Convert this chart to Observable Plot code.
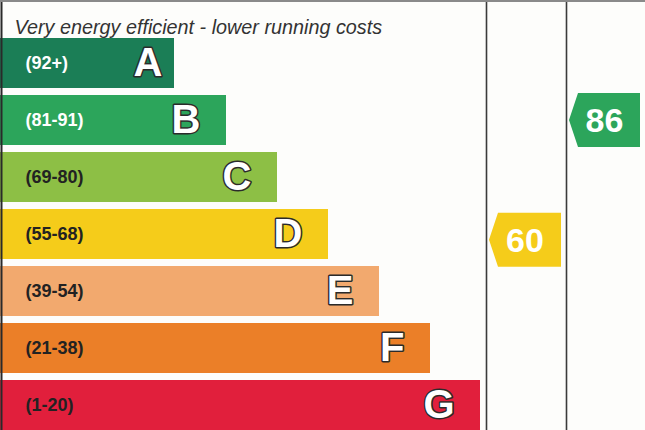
<!DOCTYPE html>
<html>
<head>
<meta charset="utf-8">
<script src="https://cdn.jsdelivr.net/npm/d3@7"></script>
<script src="https://cdn.jsdelivr.net/npm/@observablehq/plot@0.6"></script>
<style>
  html, body { margin: 0; padding: 0; background: #fdfdfb; }
  #chart svg { display: block; background: #fdfdfb; }
</style>
</head>
<body>
<div id="chart"></div>
<script>
const titleText = "Very energy efficient - lower running costs";
const ratings = ["A", "B", "C", "D", "E", "F", "G"];
const ranges = ["(92+)", "(81-91)", "(69-80)", "(55-68)", "(39-54)", "(21-38)", "(1-20)"];
const bandMin = [92, 81, 69, 55, 39, 21, 1];
const bandMax = [100, 91, 80, 68, 54, 38, 20];
const barEnd = [174, 226, 277, 328, 379, 430, 480];
const colors = ["#1b7e56", "#2ca55b", "#8dbf45", "#f5cc1a", "#f2a96e", "#eb7f28", "#e11f3c"];
const labelColors = ["#ffffff", "#ffffff", "#222222", "#222222", "#222222", "#222222", "#222222"];
const columnEdges = [486, 566];
const arrowNames = ["Current", "Potential"];
const arrowScores = [60, 86];
const arrowColStart = [486, 566];
const arrowColEnd = [566, 645];

const rows = ratings.map((r, i) => ({
  rating: r, range: ranges[i], end: barEnd[i], color: colors[i], labelColor: labelColors[i]
}));
const arrows = arrowNames.map((n, i) => {
  const score = arrowScores[i];
  const k = bandMin.findIndex((lo, j) => score >= lo && score <= bandMax[j]);
  return {name: n, score, rating: ratings[k], lo: bandMin[k], hi: bandMax[k],
          x1: arrowColStart[i], x2: arrowColEnd[i], color: colors[k]};
});

const font = "'Liberation Sans', Arial, sans-serif";

const arrowMark = (index, scales) => {
  const g = d3.create("svg:g");
  const x = scales.x, y = scales.y, bw = y.bandwidth();
  // top border
  g.append("line").attr("x1", x(0)).attr("x2", x(645)).attr("y1", 1).attr("y2", 1)
    .attr("stroke", "#8a8a8a").attr("stroke-width", 2);
  for (const a of arrows) {
    const frac = (a.hi - a.score) / (a.hi - a.lo);
    const cy = y(a.rating) + bw / 2 + (frac - 0.5) * bw;
    const h = 54;
    const tip = x(a.x1) + 3, body = tip + 9, right = x(a.x2) - 5;
    const t = cy - h / 2, b = cy + h / 2;
    g.append("path")
      .attr("d", `M${tip},${cy}L${body},${t}L${right},${t}L${right},${b}L${body},${b}Z`)
      .attr("fill", a.color);
    g.append("text")
      .attr("x", (tip + right) / 2).attr("y", cy).attr("dy", "0.36em")
      .attr("text-anchor", "middle")
      .attr("fill", "white").attr("font-family", font)
      .attr("font-weight", "bold").attr("font-size", 34)
      .text(a.score);
  }
  return g.node();
};

const chart = Plot.plot({
  width: 645,
  height: 430,
  margin: 0,
  style: {background: "#fdfdfb", fontFamily: font},
  x: {domain: [0, 645], range: [0, 645], axis: null},
  y: {type: "band", domain: ratings, range: [37, 431], paddingInner: 0.128, paddingOuter: 0, axis: null},
  marks: [
    Plot.barX(rows, {x1: 0, x2: "end", y: "rating", fill: "color"}),
    Plot.text(rows, {x: 0, y: "rating", text: "range", dx: 25, textAnchor: "start",
      fill: "labelColor", fontSize: 18, fontWeight: "bold"}),
    Plot.text(rows.filter(d => d.rating === "A"), {x: "end", y: "rating", text: "rating", dx: -12,
      textAnchor: "end", fill: "white", stroke: "#2b2b2b", strokeWidth: 3, paintOrder: "stroke",
      strokeLinejoin: "round", fontSize: 40, fontWeight: "bold"}),
    Plot.text(rows.filter(d => d.rating !== "A"), {x: "end", y: "rating", text: "rating", dx: -26,
      textAnchor: "end", fill: "white", stroke: "#2b2b2b", strokeWidth: 3, paintOrder: "stroke",
      strokeLinejoin: "round", fontSize: 40, fontWeight: "bold"}),
    Plot.ruleX(columnEdges, {stroke: "#3a3a3a", strokeWidth: 1.6}),
    Plot.ruleX([1], {stroke: "#2a2a2a", strokeWidth: 2}),
    Plot.text([titleText], {frameAnchor: "top-left", dx: 14, dy: 19, textAnchor: "start",
      fontSize: 19.8, fontStyle: "italic", fill: "#333"}),
    arrowMark
  ]
});
document.getElementById("chart").appendChild(chart);
</script>
</body>
</html>
